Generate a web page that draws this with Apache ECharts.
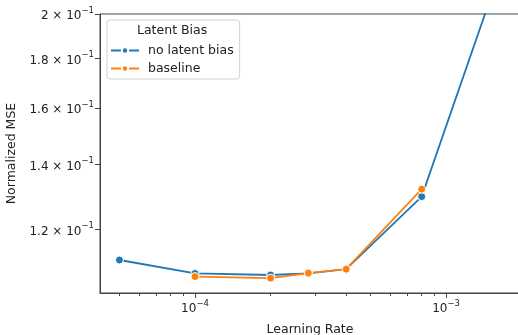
<!DOCTYPE html>
<html><head><meta charset="utf-8">
<script src="https://cdn.jsdelivr.net/npm/echarts@6/dist/echarts.min.js"></script>
<style>html,body{margin:0;padding:0;background:#fff}#c{width:518px;height:335px}</style>
</head><body><div id="c"></div>
<script>
// Data
var learningRates = [5e-5, 1e-4, 2e-4, 2.83e-4, 4e-4, 8e-4, 1.6e-3];
var noLatentBias  = [0.1116, 0.1081, 0.1077, 0.1081, 0.1092, 0.1297, 0.2175];
var baselineRates = [1e-4, 2e-4, 2.83e-4, 4e-4, 8e-4];
var baselineVals  = [0.1073, 0.1069, 0.1082, 0.1092, 0.1320];
var yTickValues = [0.12, 0.14, 0.16, 0.18, 0.2];
var yTickMant   = ['1.2', '1.4', '1.6', '1.8', '2'];
var xTickValues = [1e-4, 1e-3];
var xTickExp    = ['−4', '−3'];
var xMinorTicks = [5e-5, 6e-5, 7e-5, 8e-5, 9e-5, 2e-4, 3e-4, 4e-4, 5e-4, 6e-4, 7e-4, 8e-4, 9e-4];

var FONT = 'DejaVu Sans';
function nearestIdx(arr, v) {
  var best = 0, bd = Infinity;
  for (var i = 0; i < arr.length; i++) {
    var d = Math.abs(Math.log(arr[i]) - Math.log(v));
    if (d < bd) { bd = d; best = i; }
  }
  return best;
}
var rich = {
  b: {fontFamily: FONT, fontSize: 12, color: '#222', verticalAlign: 'bottom', lineHeight: 16},
  s: {fontFamily: FONT, fontSize: 8.5, color: '#222', verticalAlign: 'top', lineHeight: 10}
};
var chart = echarts.init(document.getElementById('c'), null, {renderer: 'canvas'});
var axisLineStyle = {color: '#444', width: 1};
chart.setOption({
  animation: false,
  grid: {left: 100, top: 14, width: 420, bottom: 42, containLabel: false, outerBoundsMode: 'none',
         show: true, borderColor: '#444', borderWidth: 1, backgroundColor: 'transparent'},
  title: {
    text: 'Latent Bias', left: 132, top: 19,
    textStyle: {fontFamily: FONT, fontSize: 12.5, fontWeight: 'normal', color: '#222'}
  },
  legend: {
    left: 107, top: 20, orient: 'vertical',
    padding: [24, 6, 4, 3], itemGap: 5,
    itemWidth: 28, itemHeight: 8,
    borderColor: '#d0d0d0', borderWidth: 1, borderRadius: 3,
    backgroundColor: 'rgba(255,255,255,0.85)',
    textStyle: {fontFamily: FONT, fontSize: 12.5, color: '#222', padding: [0, 0, 0, 4]},
    data: ['no latent bias', 'baseline']
  },
  xAxis: [{
    type: 'log', min: 4.183e-5, max: 1.971e-3,
    name: 'Learning Rate', nameLocation: 'middle', nameGap: 30,
    nameTextStyle: {fontFamily: FONT, fontSize: 12.5, color: '#222'},
    axisLine: {show: true, lineStyle: axisLineStyle},
    axisTick: {show: true, length: 5, lineStyle: axisLineStyle, customValues: xTickValues},
    axisLabel: {
      customValues: xTickValues, margin: 6,
      formatter: function (v) { return '{b|10}{s|' + xTickExp[nearestIdx(xTickValues, v)] + '}'; },
      rich: rich
    },
    splitLine: {show: false}, minorTick: {show: false}
  }, {
    type: 'log', min: 4.183e-5, max: 1.971e-3, position: 'bottom',
    axisLine: {show: false},
    axisTick: {show: true, length: 3, lineStyle: axisLineStyle, customValues: xMinorTicks},
    axisLabel: {show: false, customValues: xMinorTicks},
    splitLine: {show: false}
  }],
  yAxis: {
    type: 'log', min: 0.1032, max: 0.2,
    name: 'Normalized MSE', nameLocation: 'middle', nameGap: 79,
    nameTextStyle: {fontFamily: FONT, fontSize: 12.5, color: '#222'},
    axisLine: {show: true, lineStyle: axisLineStyle},
    axisTick: {show: true, length: 5, lineStyle: axisLineStyle, customValues: yTickValues},
    axisLabel: {
      customValues: yTickValues, margin: 6,
      formatter: function (v) { return '{b|' + yTickMant[nearestIdx(yTickValues, v)] + ' × 10}{s|−1}'; },
      rich: rich
    },
    splitLine: {show: false}
  },
  series: [{
    name: 'no latent bias', type: 'line', xAxisIndex: 0,
    data: learningRates.map(function (x, i) { return [x, noLatentBias[i]]; }),
    color: '#1f77b4', symbol: 'circle', symbolSize: 8, showAllSymbol: true,
    lineStyle: {width: 1.8, color: '#1f77b4'},
    itemStyle: {color: '#1f77b4', borderColor: '#fff', borderWidth: 1},
    clip: true, z: 2
  }, {
    name: 'baseline', type: 'line', xAxisIndex: 0,
    data: baselineRates.map(function (x, i) { return [x, baselineVals[i]]; }),
    color: '#ff7f0e', symbol: 'circle', symbolSize: 8, showAllSymbol: true,
    lineStyle: {width: 1.8, color: '#ff7f0e'},
    itemStyle: {color: '#ff7f0e', borderColor: '#fff', borderWidth: 1},
    clip: true, z: 3
  }]
});
</script></body></html>
